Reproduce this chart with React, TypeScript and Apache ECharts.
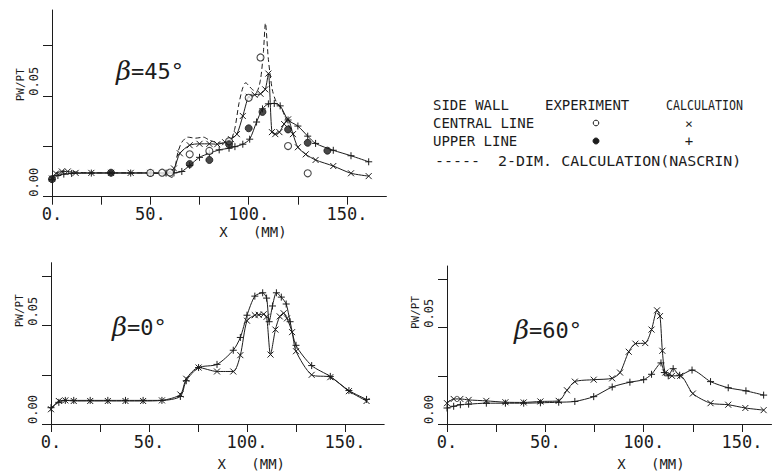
import { useEffect, useRef } from 'react';
import * as echarts from 'echarts';

// ---------- axis ticks / labels ----------
const xTickValues = [0, 25, 50, 75, 100, 125, 150];
const xLabelValues = [0, 50, 100, 150];
const yTickValues = [0, 0.025, 0.05, 0.075];
const yLabelValues = [0, 0.05];

// ---------- beta = 45 deg ----------
const b45Nascrin: [number, number][] = [
  [0, 0.0085], [2, 0.012], [4, 0.0105], [6, 0.013], [8, 0.011], [10, 0.0125], [14, 0.012],
  [20, 0.0118], [30, 0.0118], [40, 0.0118], [50, 0.0118], [56, 0.0112], [59, 0.0105],
  [61, 0.0095], [62.5, 0.014], [64, 0.022], [66, 0.027], [69, 0.0295], [73, 0.029],
  [77, 0.0295], [80, 0.028], [83, 0.027], [86, 0.0265], [89, 0.0265], [91, 0.028],
  [93, 0.034], [95, 0.046], [97, 0.054], [98.5, 0.0565], [100, 0.055], [102, 0.053],
  [104, 0.052], [106, 0.058], [107.5, 0.072], [108.5, 0.086], [110, 0.068], [112, 0.053],
  [114, 0.047], [117, 0.043], [120, 0.036], [123, 0.031],
];
const b45CentralCalc: [number, number][] = [
  [0, 0.009], [2, 0.0115], [5, 0.0125], [8, 0.0125], [12, 0.0118], [20, 0.0118], [30, 0.0118],
  [40, 0.0118], [50, 0.0118], [58, 0.0118], [62, 0.014], [65, 0.0215], [70, 0.0255],
  [75, 0.0262], [80, 0.0262], [84, 0.026], [88, 0.027], [91, 0.0285], [94, 0.031],
  [97, 0.04], [100, 0.0495], [103, 0.0505], [106, 0.051], [108.4, 0.0532], [110, 0.061],
  [111.8, 0.032], [113.5, 0.031], [115.6, 0.032], [118, 0.036], [120, 0.0383],
  [122.5, 0.031], [125, 0.0245], [129, 0.021], [134, 0.0182], [143, 0.0152],
  [152, 0.0116], [161, 0.0102],
];
const b45UpperCalc: [number, number][] = [
  [0, 0.0085], [3, 0.0105], [6, 0.0112], [10, 0.0115], [20, 0.0117], [30, 0.0117],
  [40, 0.0117], [50, 0.0117], [58, 0.0117], [62, 0.0118], [66, 0.0125], [70, 0.0155],
  [75, 0.0195], [80, 0.0215], [85, 0.0232], [90, 0.024], [93, 0.0248], [97, 0.026],
  [100.5, 0.0285], [104, 0.037], [107, 0.0435], [110, 0.046], [113, 0.0462], [116, 0.045],
  [120, 0.038], [125, 0.035], [130, 0.03], [134, 0.0264], [143, 0.023], [152, 0.0203],
  [161, 0.0173],
];
const b45CentralExp: [number, number][] = [
  [50, 0.0118], [56, 0.0119], [60, 0.012], [70, 0.021], [80, 0.0227], [90, 0.0275],
  [100, 0.049], [106, 0.069], [120, 0.0251], [130, 0.0116],
];
const b45UpperExp: [number, number][] = [
  [0, 0.0087], [30, 0.0119], [70, 0.0162], [80, 0.0182], [90, 0.026], [100, 0.0339],
  [107, 0.042], [120, 0.0333], [130, 0.0267], [140, 0.0228],
];

// ---------- beta = 0 deg ----------
const b0CentralCalc: [number, number][] = [
  [0, 0.0075], [4, 0.0117], [7.3, 0.012], [11.6, 0.0117], [20, 0.0117], [29, 0.0117],
  [38, 0.0117], [47, 0.0117], [56.6, 0.012], [66, 0.015], [69, 0.023], [75.3, 0.0287],
  [84.7, 0.0267], [93, 0.0267], [96.6, 0.035], [100, 0.0525], [104, 0.0553], [106, 0.0555],
  [108.5, 0.0558], [110, 0.0545], [112, 0.0353], [114.5, 0.048], [116.7, 0.0547],
  [118.7, 0.0563], [120.4, 0.0537], [123, 0.0467], [125, 0.037], [133, 0.025],
  [142.5, 0.0238], [152, 0.0167], [161, 0.0117],
];
const b0UpperCalc: [number, number][] = [
  [0, 0.0083], [4, 0.011], [7.3, 0.012], [11.6, 0.012], [20, 0.012], [29, 0.012], [38, 0.012],
  [47, 0.012], [56.6, 0.012], [66, 0.014], [69, 0.022], [75.3, 0.0287], [84.7, 0.0303],
  [93, 0.0375], [96.6, 0.044], [100, 0.0553], [104, 0.065], [108, 0.0667], [110, 0.064],
  [111.3, 0.052], [113, 0.06], [115, 0.0667], [117.5, 0.0645], [120, 0.061], [122, 0.052],
  [125, 0.04], [133, 0.0297], [142.5, 0.0242], [152, 0.017], [161, 0.0125],
];

// ---------- beta = 60 deg ----------
const b60CentralCalc: [number, number][] = [
  [0, 0.0108], [3.4, 0.013], [6.8, 0.013], [11, 0.0125], [20, 0.012], [29.7, 0.0113],
  [39, 0.0112], [47.5, 0.0117], [56.8, 0.012], [61, 0.0175], [65, 0.022], [74.6, 0.023],
  [84, 0.0237], [88, 0.0267], [92.4, 0.0375], [95.8, 0.0417], [100.8, 0.042], [104, 0.049],
  [106.8, 0.059], [108.3, 0.056], [109.5, 0.038], [111, 0.0267], [114.4, 0.025],
  [118.6, 0.025], [125, 0.0158], [134, 0.0108], [143, 0.01], [151.7, 0.0083], [161, 0.0072],
];
const b60UpperCalc: [number, number][] = [
  [0, 0.0083], [3.4, 0.0092], [6.8, 0.01], [11, 0.0103], [20, 0.0108], [29.7, 0.0108],
  [39, 0.0108], [47.5, 0.011], [56.8, 0.0113], [65, 0.0117], [74.6, 0.0142], [84, 0.0192],
  [93, 0.0217], [100, 0.023], [104, 0.0258], [108.8, 0.0317], [110.5, 0.0267],
  [112.5, 0.025], [115, 0.0287], [118.3, 0.0253], [124.6, 0.028], [134, 0.022],
  [143, 0.0188], [152, 0.0172], [161, 0.015],
];

const INK = '#1c1c1c';
const MONO = 'DejaVu Sans Mono';
const CROSS = 'path://M0,0L10,10M10,0L0,10';
const PLUS = 'path://M5,0L5,10M0,5L10,5';

function makeX(gridIndex: number, max: number, namePad: number, nameGap: number) {
  return {
    type: 'value', gridIndex, min: 0, max,
    axisLine: { onZero: false, lineStyle: { color: INK, width: 1 } },
    axisTick: { show: true, length: 8, customValues: xTickValues, lineStyle: { color: INK, width: 1 } },
    axisLabel: {
      customValues: xLabelValues, formatter: (v: number) => `${v}.`,
      fontFamily: MONO, fontSize: 17, color: INK, margin: 9,
    },
    splitLine: { show: false },
    name: 'X   (MM)', nameLocation: 'middle', nameGap,
    nameTextStyle: { fontFamily: MONO, fontSize: 14, color: INK, align: 'left', verticalAlign: 'top', padding: [0, 0, 0, namePad] },
  };
}

function makeY(gridIndex: number, max: number, namePad: number) {
  return {
    type: 'value', gridIndex, min: 0, max,
    axisLine: { show: true, onZero: false, lineStyle: { color: INK, width: 1 } },
    axisTick: { show: true, length: 9, customValues: yTickValues, lineStyle: { color: INK, width: 1 } },
    axisLabel: {
      customValues: yLabelValues, formatter: (v: number) => v.toFixed(2),
      rotate: 90, align: 'left', verticalAlign: 'bottom', margin: 12,
      fontFamily: MONO, fontSize: 12, color: INK,
    },
    splitLine: { show: false },
    name: 'PW/PT', nameLocation: 'middle', nameRotate: 90, nameGap: 26,
    nameTextStyle: { fontFamily: MONO, fontSize: 11, color: INK, align: 'left', verticalAlign: 'bottom', padding: [0, 0, 0, namePad] },
  };
}

function calcLine(name: string, data: [number, number][], idx: number, symbol: string, size: number) {
  return {
    name, type: 'line', xAxisIndex: idx, yAxisIndex: idx, data,
    smooth: 0.25, symbol, symbolSize: size, showSymbol: true,
    lineStyle: { color: INK, width: 1 },
    itemStyle: { color: INK, borderColor: INK, borderWidth: 1 },
    silent: true, z: 3,
  };
}

function legendText(x: number, y: number, text: string, scaleX = 1) {
  return {
    type: 'text', x, y, scaleX,
    style: { text, fontFamily: MONO, fontSize: 14, fill: INK, verticalAlign: 'middle' },
  };
}

function titleText(left: number, top: number, rest: string) {
  return {
    text: `{b|β}{t|${rest}}`, left, top,
    textStyle: {
      fontWeight: 'normal',
      rich: {
        b: { fontFamily: 'DejaVu Serif', fontStyle: 'italic', fontWeight: 'normal', fontSize: 26, color: INK },
        t: { fontFamily: MONO, fontWeight: 'normal', fontSize: 22, color: INK },
      },
    },
  };
}

export default function App() {
  const ref = useRef<HTMLDivElement>(null);
  useEffect(() => {
    if (!ref.current) return;
    const chart = echarts.init(ref.current, null, { renderer: 'svg' });
    chart.setOption({
      animation: false,
      backgroundColor: '#ffffff',
      title: [
        titleText(111, 53, '=45°'),
        titleText(107, 309, '=0°'),
        titleText(509, 312, '=60°'),
      ],
      grid: [
        { left: 52, top: 10, width: 334.4, height: 186.7 },
        { left: 51, top: 262.7, width: 333.2, height: 164 },
        { left: 447, top: 266, width: 324.5, height: 164 },
      ],
      xAxis: [makeX(0, 170, 0, 28), makeX(1, 170, 0, 33), makeX(2, 165, 8, 33)],
      yAxis: [makeY(0, 0.0925, 2), makeY(1, 0.082, 16), makeY(2, 0.082, 16)],
      series: [
        {
          name: '2-DIM. CALCULATION(NASCRIN)', type: 'line', xAxisIndex: 0, yAxisIndex: 0,
          data: b45Nascrin, smooth: 0.25, showSymbol: false, symbol: 'none',
          lineStyle: { color: INK, width: 1, type: [5, 3] }, silent: true, z: 2,
        },
        calcLine('CENTRAL LINE CALCULATION (β=45°)', b45CentralCalc, 0, CROSS, 6),
        calcLine('UPPER LINE CALCULATION (β=45°)', b45UpperCalc, 0, PLUS, 7),
        {
          name: 'CENTRAL LINE EXPERIMENT', type: 'scatter', xAxisIndex: 0, yAxisIndex: 0,
          data: b45CentralExp, symbol: 'circle', symbolSize: 7,
          itemStyle: { color: '#ffffff', borderColor: INK, borderWidth: 1.1 }, silent: true, z: 4,
        },
        {
          name: 'UPPER LINE EXPERIMENT', type: 'scatter', xAxisIndex: 0, yAxisIndex: 0,
          data: b45UpperExp, symbol: 'circle', symbolSize: 7,
          itemStyle: { color: INK, borderColor: INK, borderWidth: 1 }, silent: true, z: 4,
        },
        calcLine('CENTRAL LINE CALCULATION (β=0°)', b0CentralCalc, 1, CROSS, 6),
        calcLine('UPPER LINE CALCULATION (β=0°)', b0UpperCalc, 1, PLUS, 7),
        calcLine('CENTRAL LINE CALCULATION (β=60°)', b60CentralCalc, 2, CROSS, 6),
        calcLine('UPPER LINE CALCULATION (β=60°)', b60UpperCalc, 2, PLUS, 7),
      ],
      graphic: [
        legendText(433, 105, 'SIDE WALL', 1.0),
        legendText(545, 105, 'EXPERIMENT', 1.0),
        legendText(666, 105, 'CALCULATION', 0.83),
        legendText(433, 123, 'CENTRAL LINE', 1.0),
        legendText(433, 141, 'UPPER LINE', 1.0),
        legendText(435, 161, '-----  2-DIM. CALCULATION(NASCRIN)', 1.07),
        { type: 'circle', shape: { cx: 596, cy: 123, r: 2.8 }, style: { fill: '#ffffff', stroke: INK, lineWidth: 1 } },
        { type: 'circle', shape: { cx: 596, cy: 141, r: 3 }, style: { fill: INK, stroke: INK, lineWidth: 1 } },
        { type: 'text', x: 689, y: 123, style: { text: '×', fontFamily: MONO, fontSize: 13, fill: INK, align: 'center', verticalAlign: 'middle' } },
        { type: 'text', x: 689, y: 141, style: { text: '+', fontFamily: MONO, fontSize: 14, fill: INK, align: 'center', verticalAlign: 'middle' } },
      ],
    });
    return () => chart.dispose();
  }, []);
  return (
    <div
      ref={ref}
      style={{ position: 'fixed', left: 0, top: 0, width: 772, height: 472, background: '#fff' }}
    />
  );
}
